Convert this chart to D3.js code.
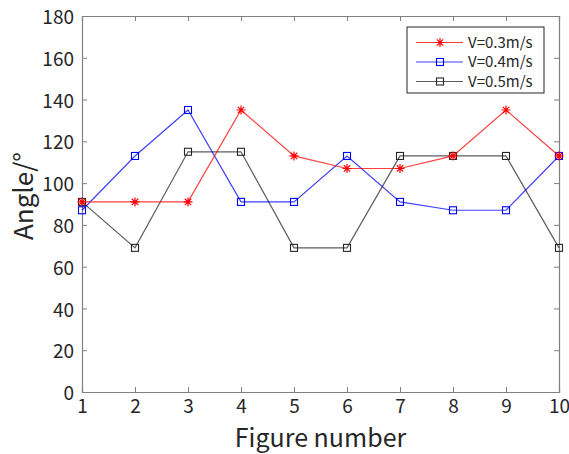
<!DOCTYPE html>
<html>
<head>
<meta charset="utf-8">
<script src="https://cdn.jsdelivr.net/npm/d3@7"></script>
<style>
  body { margin: 0; background: #fff; }
  text { font-family: "Noto Sans CJK SC", "Noto Sans", sans-serif; fill: #262626; }
</style>
</head>
<body>
<div id="chart"></div>
<script>
// data
var figures = [1, 2, 3, 4, 5, 6, 7, 8, 9, 10];
var v03 = [91, 91, 91, 135, 113, 107, 107, 113, 135, 113];
var v04 = [87, 113, 135, 91, 91, 113, 91, 87, 87, 113];
var v05 = [91, 69, 115, 115, 69, 69, 113, 113, 113, 69];
var yTicks = [0, 20, 40, 60, 80, 100, 120, 140, 160, 180];
var seriesNames = ["V=0.3m/s", "V=0.4m/s", "V=0.5m/s"];

var series = [
    { name: seriesNames[0], values: v03, color: "#ff0000", marker: "star" },
    { name: seriesNames[1], values: v04, color: "#0000ff", marker: "square" },
    { name: seriesNames[2], values: v05, color: "#262626", marker: "square" }
];

var W = 569, H = 454;
var margin = {top: 16, right: 10, bottom: 62, left: 82};
var width = 559 - margin.left,
    height = 392 - margin.top;

var svg = d3.select("#chart").append("svg")
    .attr("width", W)
    .attr("height", H);

var g = svg.append("g")
    .attr("transform", "translate(" + margin.left + "," + margin.top + ")");

var x = d3.scaleLinear().domain([1, 10]).range([0, width]);
var y = d3.scaleLinear().domain([0, 180]).range([height, 0]);

// axes with inward ticks, mirrored on top and right
var axisColor = "#808080";
var xAxisG = g.append("g")
    .attr("transform", "translate(0," + height + ")")
    .call(d3.axisBottom(x).tickValues(figures).tickSize(-5).tickPadding(4).tickFormat(d3.format("d")));
var yAxisG = g.append("g")
    .call(d3.axisLeft(y).tickValues(yTicks).tickSize(-5).tickPadding(8));
var topAxisG = g.append("g")
    .call(d3.axisTop(x).tickValues(figures).tickSize(-5).tickFormat(""));
var rightAxisG = g.append("g")
    .attr("transform", "translate(" + width + ",0)")
    .call(d3.axisRight(y).tickValues(yTicks).tickSize(-5).tickFormat(""));

[xAxisG, yAxisG, topAxisG, rightAxisG].forEach(function(a) {
    a.select(".domain").attr("stroke", axisColor).attr("stroke-width", 1.2);
    a.selectAll(".tick line").attr("stroke", axisColor);
    a.selectAll(".tick text").style("font-size", "19px").attr("fill", "#262626");
});
xAxisG.selectAll(".tick text").attr("dy", "0.9em");
yAxisG.selectAll(".tick text").attr("dy", "0.4em");

// axis titles
svg.append("text")
    .attr("x", margin.left + width / 2)
    .attr("y", 447)
    .attr("text-anchor", "middle")
    .style("font-size", "25px")
    .text("Figure number");
svg.append("text")
    .attr("text-anchor", "middle")
    .attr("transform", "translate(33," + (margin.top + height / 2 - 8) + ")rotate(-90)")
    .style("font-size", "26px")
    .text("Angle/°");

function drawMarker(sel, kind, color) {
    if (kind == "star") {
        sel.append("path")
            .attr("d", "M0,-4.5V4.5M-4.5,0H4.5M-3.2,-3.2L3.2,3.2M-3.2,3.2L3.2,-3.2")
            .attr("stroke", color)
            .attr("stroke-width", 1.2)
            .attr("fill", "none");
    } else {
        sel.append("rect")
            .attr("x", -3.5).attr("y", -3.5)
            .attr("width", 7).attr("height", 7)
            .attr("stroke", color)
            .attr("stroke-width", 1.1)
            .attr("fill", "none");
    }
}

var line = d3.line()
    .x(function(d, i) { return x(figures[i]); })
    .y(function(d) { return y(d); });

// draw black first so red ends up on top
series.slice().reverse().forEach(function(s) {
    g.append("path")
        .datum(s.values)
        .attr("d", line)
        .attr("fill", "none")
        .attr("stroke", s.color)
        .attr("stroke-opacity", 0.75)
        .attr("stroke-width", 1.2);
    s.values.forEach(function(v, i) {
        var m = g.append("g")
            .attr("transform", "translate(" + x(figures[i]) + "," + y(v) + ")");
        drawMarker(m, s.marker, s.color);
    });
});

// legend
var legend = svg.append("g").attr("transform", "translate(407,27)");
legend.append("rect")
    .attr("width", 137).attr("height", 66)
    .attr("fill", "#fff")
    .attr("stroke", "#262626")
    .attr("stroke-width", 1);
series.forEach(function(s, i) {
    var row = legend.append("g").attr("transform", "translate(0," + (15.5 + i * 19.5) + ")");
    row.append("line")
        .attr("x1", 9).attr("x2", 56)
        .attr("stroke", s.color)
        .attr("stroke-opacity", 0.75)
        .attr("stroke-width", 1.2);
    var m = row.append("g").attr("transform", "translate(33,0)");
    drawMarker(m, s.marker, s.color);
    row.append("text")
        .attr("x", 61)
        .attr("dy", "0.36em")
        .style("font-size", "15px")
        .text(s.name);
});
</script>
</body>
</html>
